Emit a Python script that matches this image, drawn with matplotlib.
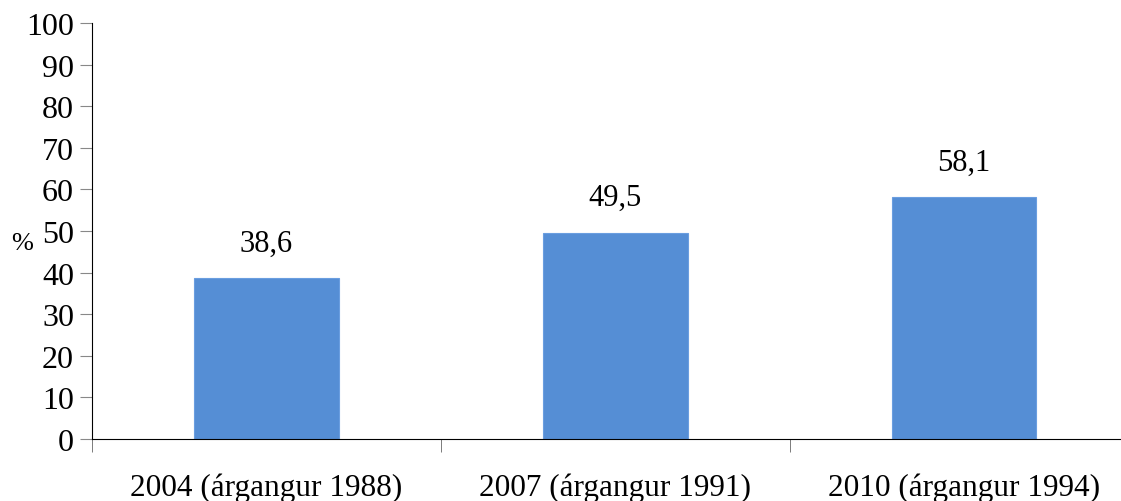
import matplotlib.pyplot as plt
import numpy as np

# Data
categories = ['2004 (árgangur 1988)', '2007 (árgangur 1991)', '2010 (árgangur 1994)']
values = [38.6, 49.5, 58.1]
value_labels = ['38,6', '49,5', '58,1']

plt.rcParams['font.family'] = ['Liberation Serif', 'DejaVu Serif']

fig = plt.figure(figsize=(11.21, 5.02), dpi=100)
ax = fig.add_axes([92 / 1121, 1 - 440 / 502, (1121 - 92) / 1121, 416 / 502])

x = np.arange(len(categories))
ax.bar(x, values, width=0.415, color='#558ed5', edgecolor='#6a9ee0', linewidth=0.8)

for xi, v, lab in zip(x, values, value_labels):
    ax.text(xi, v + 5, lab, ha='center', va='bottom', fontsize=22)

ax.set_ylim(0, 100)
ax.set_xlim(-0.5, 2.45)
ax.set_yticks(range(0, 101, 10))
ax.tick_params(axis='y', labelsize=23, length=9, color='#888888', pad=4)

# category labels centred, tick marks on category boundaries
ax.set_xticks(x)
ax.set_xticklabels(categories, fontsize=22.5)
ax.tick_params(axis='x', length=0, pad=24)
ax.set_xticks([-0.5, 0.5, 1.5], minor=True)
ax.tick_params(axis='x', which='minor', length=9, color='#666666')

for side in ['top', 'right']:
    ax.spines[side].set_visible(False)
ax.spines['left'].set_color('black')
ax.spines['bottom'].set_color('black')

ax.set_ylabel('%', fontsize=19, rotation=0)
ax.yaxis.set_label_coords(-0.068, 0.445)

fig.savefig('out.png', dpi=100)
